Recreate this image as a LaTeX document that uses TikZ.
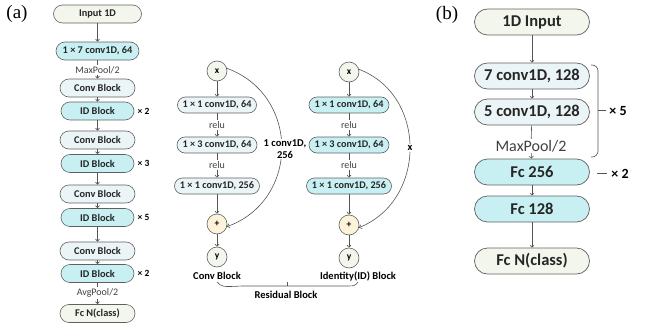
\documentclass[tikz,border=0pt]{standalone}
\usepackage{fontspec}
\setmainfont{Carlito}
\newfontfamily\seriffam{Liberation Serif}
\usetikzlibrary{arrows.meta}
\definecolor{cyanf}{HTML}{C8F0F2}
\definecolor{lightf}{HTML}{EBF5F8}
\definecolor{creamf}{HTML}{F3F6EC}
\definecolor{plusf}{HTML}{FDF2DA}
\definecolor{bord}{HTML}{606060}
\definecolor{arrc}{HTML}{555555}
\begin{document}
\begin{tikzpicture}[x=1pt,y=-1pt,
  pa/.style={draw=bord,line width=0.6pt,minimum height=18pt,rounded corners=9pt,inner sep=0pt,text=black!85,font=\bfseries\fontsize{10.3}{12}\selectfont},
  pm/.style={draw=bord,line width=0.6pt,minimum height=16pt,rounded corners=8pt,inner sep=0pt,text=black!85,font=\bfseries\fontsize{10.2}{12}\selectfont},
  pb/.style={draw=bord,line width=0.7pt,minimum height=26pt,minimum width=115pt,rounded corners=13pt,inner sep=0pt,text=black!85,font=\bfseries\fontsize{16.5}{19}\selectfont},
  circ/.style={draw=bord,line width=0.6pt,circle,minimum size=20pt,inner sep=0pt,font=\bfseries\fontsize{9.5}{10}\selectfont},
  lbl/.style={inner sep=1pt,text=black!75,font=\fontsize{10}{11}\selectfont},
  mult/.style={inner sep=0pt,font=\bfseries\fontsize{9.5}{11}\selectfont},
  ttl/.style={inner sep=0pt,font=\bfseries\fontsize{10.5}{12}\selectfont},
  ln/.style={draw=arrc,line width=0.6pt},
  arr/.style={ln,-{Straight Barb[length=2.2pt,width=4pt]}}]
\useasboundingbox (0,0) rectangle (646,324);
% ---- (a) left column
\node[font=\fontsize{19}{20}\selectfont\seriffam] (la) at (17,14) {(a)};
\node[pa,fill=creamf,minimum width=88pt] (in1) at (97.5,14) {Input 1D};
\node[pa,fill=cyanf,minimum width=83pt] (c17) at (97.5,51) {1 × 7 conv1D, 64};
\node[lbl] (mp1) at (97.5,70) {MaxPool/2};
\node[pa,fill=lightf,minimum width=75pt] (cb1) at (97.5,88) {Conv Block};
\node[pa,fill=cyanf,minimum width=73pt] (id1) at (97.5,111) {ID Block};
\node[pa,fill=lightf,minimum width=75pt] (cb2) at (97.5,140) {Conv Block};
\node[pa,fill=cyanf,minimum width=73pt] (id2) at (97.5,163.5) {ID Block};
\node[pa,fill=lightf,minimum width=75pt] (cb3) at (97.5,194) {Conv Block};
\node[pa,fill=cyanf,minimum width=73pt] (id3) at (97.5,217.5) {ID Block};
\node[pa,fill=lightf,minimum width=75pt] (cb4) at (97.5,251) {Conv Block};
\node[pa,fill=cyanf,minimum width=73pt] (id4) at (97.5,273.5) {ID Block};
\node[lbl] (ap) at (97.5,293) {AvgPool/2};
\node[pa,fill=creamf,minimum width=75pt] (fc) at (97.5,313.5) {Fc N(class)};
\node[mult] (m1) at (143.5,111) {× 2};
\node[mult] (m2) at (143.5,163.5) {× 3};
\node[mult] (m3) at (143.5,217.5) {× 5};
\node[mult] (m4) at (143.5,273.5) {× 2};
\draw[arr] (in1) -- (c17);
\draw[ln] (c17) -- (mp1);
\draw[arr] (mp1) -- (cb1);
\draw[arr] (cb1) -- (id1);
\draw[arr] (id1) -- (cb2);
\draw[arr] (cb2) -- (id2);
\draw[arr] (id2) -- (cb3);
\draw[arr] (cb3) -- (id3);
\draw[arr] (id3) -- (cb4);
\draw[arr] (cb4) -- (id4);
\draw[ln] (id4) -- (ap);
\draw[arr] (ap) -- (fc);
% ---- conv block
\node[circ,fill=creamf] (cx) at (217,71) {x};
\node[pm,fill=lightf,minimum width=79pt] (cc1) at (217,105) {1 × 1 conv1D, 64};
\node[lbl] (cr1) at (217,125) {relu};
\node[pm,fill=lightf,minimum width=80pt] (cc2) at (217,145) {1 × 3 conv1D, 64};
\node[lbl] (cr2) at (217,165) {relu};
\node[pm,fill=lightf,minimum width=85pt] (cc3) at (217,186) {1 × 1 conv1D, 256};
\node[circ,fill=plusf] (cp) at (217,224) {+};
\node[circ,fill=creamf] (cy) at (217,257) {y};
\node[ttl] (cl) at (217,276) {Conv Block};
\draw[arr] (cx) -- (cc1);
\draw[ln] (cc1) -- (cr1);
\draw[arr] (cr1) -- (cc2);
\draw[ln] (cc2) -- (cr2);
\draw[arr] (cr2) -- (cc3);
\draw[arr] (cc3) -- (cp);
\draw[arr] (cp) -- (cy);
\draw[arr] (cx.15) .. controls (300,95) and (300,200) .. (cp.-15);
\node[ttl,fill=white,align=center,inner sep=1pt] (csk) at (285,149) {1 conv1D,\\256};
% ---- identity block
\node[circ,fill=creamf] (ix) at (349,72) {x};
\node[pm,fill=cyanf,minimum width=80pt] (ic1) at (349,105) {1 × 1 conv1D, 64};
\node[lbl] (ir1) at (349,125) {relu};
\node[pm,fill=cyanf,minimum width=80pt] (ic2) at (349,145) {1 × 3 conv1D, 64};
\node[lbl] (ir2) at (349,165) {relu};
\node[pm,fill=cyanf,minimum width=85pt] (ic3) at (349,186) {1 × 1 conv1D, 256};
\node[circ,fill=plusf] (ip) at (349,225) {+};
\node[circ,fill=creamf] (iy) at (349,258) {y};
\node[ttl] (il) at (358,276) {Identity(ID) Block};
\draw[arr] (ix) -- (ic1);
\draw[ln] (ic1) -- (ir1);
\draw[arr] (ir1) -- (ic2);
\draw[ln] (ic2) -- (ir2);
\draw[arr] (ir2) -- (ic3);
\draw[arr] (ic3) -- (ip);
\draw[arr] (ip) -- (iy);
\draw[arr] (ix.15) .. controls (427,95) and (427,200) .. (ip.-15);
\node[ttl,fill=white,inner sep=1pt] (isk) at (410,148) {x};
% residual brace
\coordinate (rb1) at (217,282);
\coordinate (rb2) at (358,282);
\draw[ln] (rb1) .. controls (222,287) .. (242,286) -- (343,286) .. controls (355,286) .. (rb2);
\draw[ln] (287,286) -- (287,282);
\node[ttl] (rl) at (286,295) {Residual Block};
% ---- (b)
\node[font=\fontsize{19}{20}\selectfont\seriffam] (lb) at (447,15) {(b)};
\node[pb,fill=creamf] (b1) at (532,22) {1D Input};
\node[pb,fill=lightf] (b2) at (532,76) {7 conv1D, 128};
\node[pb,fill=lightf] (b3) at (532,112) {5 conv1D, 128};
\node[lbl,font=\fontsize{16}{18}\selectfont] (bmp) at (531,146) {MaxPool/2};
\node[pb,fill=cyanf] (b4) at (532,172) {Fc 256};
\node[pb,fill=cyanf] (b5) at (532,209) {Fc 128};
\node[pb,fill=creamf] (b6) at (532,261) {Fc N(class)};
\draw[arr] (b1) -- (b2);
\draw[arr] (b2) -- (b3);
\draw[ln] (b3) -- (bmp);
\draw[arr] (bmp) -- (b4);
\draw[arr] (b4) -- (b5);
\draw[arr] (b5) -- (b6);
\draw[ln,rounded corners=6pt] (591,65) -| (598,110) |- (591,157);
\draw[ln] (598,110) -- (606,110);
\node[mult,font=\bfseries\fontsize{14}{16}\selectfont] (bm1) at (618,111) {× 5};
\draw[ln] (597,173) -- (607,173);
\node[mult,font=\bfseries\fontsize{14}{16}\selectfont] (bm2) at (620,174) {× 2};
\end{tikzpicture}
\end{document}
